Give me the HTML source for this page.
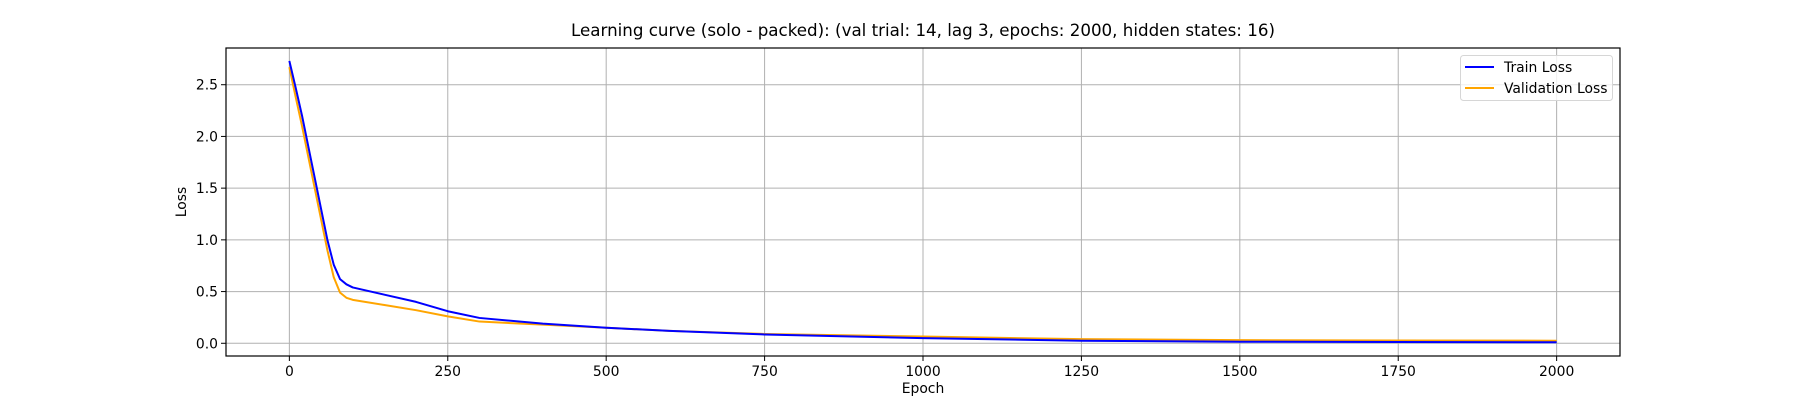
<!DOCTYPE html>
<html><head><meta charset="utf-8"><style>
body{margin:0;background:#fff;}
svg text{font-family:"DejaVu Sans","Liberation Sans",sans-serif;fill:#000;}
</style></head><body>
<svg id="chart" width="1800" height="400" viewBox="0 0 1800 400">
<rect width="1800" height="400" fill="#fff"/>
<g id="grid"></g><g id="series"></g><g id="axes"></g>
</svg>
<script>
const xTicks=[0,250,500,750,1000,1250,1500,1750,2000];
const yTicks=[0.0,0.5,1.0,1.5,2.0,2.5];
const yTickLabels=["0.0","0.5","1.0","1.5","2.0","2.5"];
const epochs=[0,10,20,30,40,50,60,70,80,90,100,150,200,250,300,400,500,600,750,1000,1250,1500,1750,2000];
const trainLoss=[2.73,2.47,2.2,1.9,1.6,1.3,1.0,0.76,0.62,0.57,0.54,0.47,0.40,0.31,0.245,0.19,0.15,0.12,0.085,0.05,0.025,0.015,0.012,0.01];
const valLoss=[2.67,2.38,2.1,1.8,1.5,1.2,0.9,0.64,0.49,0.44,0.42,0.37,0.32,0.26,0.21,0.18,0.15,0.12,0.09,0.065,0.04,0.03,0.027,0.025];
const L=226,R=1620,T=48,B=356,xmin=-100,xmax=2100,ymin=-0.123,ymax=2.855;
const X=v=>L+(v-xmin)/(xmax-xmin)*(R-L);
const Y=v=>B-(v-ymin)/(ymax-ymin)*(B-T);
const NS="http://www.w3.org/2000/svg";
function mk(tag,attrs,parent,txt){const e=document.createElementNS(NS,tag);for(const k in attrs)e.setAttribute(k,attrs[k]);if(txt!==undefined)e.textContent=txt;parent.appendChild(e);return e;}
const grid=document.getElementById('grid'),ser=document.getElementById('series'),ax=document.getElementById('axes');
xTicks.forEach(t=>{
 const g=mk('line',{x1:X(t),x2:X(t),y1:T,y2:B,stroke:'#b0b0b0','stroke-width':1},grid);
 
 
 mk('line',{x1:X(t),x2:X(t),y1:B,y2:B+5,stroke:'#000','stroke-width':1},ax);
 const l=mk('text',{x:X(t),y:B+20,'text-anchor':'middle','font-size':'13.9'},ax,String(t));
 
 
});
yTicks.forEach((t,i)=>{
 const g=mk('line',{x1:L,x2:R,y1:Y(t),y2:Y(t),stroke:'#b0b0b0','stroke-width':1},grid);
 
 
 mk('line',{x1:L-5,x2:L,y1:Y(t),y2:Y(t),stroke:'#000','stroke-width':1},ax);
 const l=mk('text',{x:L-8,y:Y(t)+5,'text-anchor':'end','font-size':'13.9'},ax,yTickLabels[i]);
 
 
});
function line(vals,color,name){
 const p=mk('polyline',{points:epochs.map((e,i)=>X(e)+','+Y(vals[i])).join(' '),fill:'none',stroke:color,'stroke-width':2,'stroke-linejoin':'round'},ser);
 
 
}
line(valLoss,'#ffa500','validation-loss-line');
line(trainLoss,'#0000ff','train-loss-line');
const fr=mk('rect',{x:L,y:T,width:R-L,height:B-T,fill:'none',stroke:'#000','stroke-width':1.2},ax);


</script>
<svg style="position:absolute;left:0;top:0" width="1800" height="400">
<text x="923" y="36" text-anchor="middle" font-size="16.7">Learning curve (solo - packed): (val trial: 14, lag 3, epochs: 2000, hidden states: 16)</text>
<text x="923" y="393" text-anchor="middle" font-size="13.9">Epoch</text>
<text x="0" y="0" transform="translate(186,202) rotate(-90)" text-anchor="middle" font-size="13.9">Loss</text>
<g>
<rect x="1460.5" y="55.5" width="152" height="45" rx="3" fill="#fff" fill-opacity="0.8" stroke="#d6d6d6"/>
<g>
<line x1="1465" x2="1494" y1="67" y2="67" stroke="#0000ff" stroke-width="2"/>
<text x="1504" y="72" font-size="13.9">Train Loss</text></g>
<g>
<line x1="1465" x2="1494" y1="88" y2="88" stroke="#ffa500" stroke-width="2"/>
<text x="1504" y="93" font-size="13.9">Validation Loss</text></g>
</g>
</svg>
</body></html>
